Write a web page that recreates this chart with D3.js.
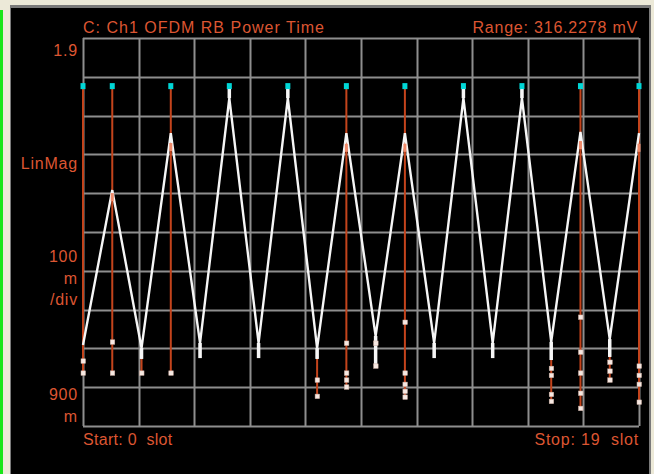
<!DOCTYPE html>
<html>
<head>
<meta charset="utf-8">
<script src="https://cdn.jsdelivr.net/npm/d3@7"></script>
<style>
html,body{margin:0;padding:0;background:#ece9d8;}
svg{display:block;}
text{font-family:"Liberation Sans",Arial,sans-serif;white-space:pre;}
</style>
</head>
<body>
<svg id="chart" width="654" height="474"></svg>
<script>
// ---- data ----
const slots = [0,1,2,3,4,5,6,7,8,9,10,11,12,13,14,15,16,17,18,19];
// white trace: value where the two legs meet, and tip of the short stem
const traceJoin = [1.109,1.508,1.101,1.655,1.114,1.745,1.114,1.745,1.101,1.655,1.132,1.655,1.114,1.745,1.114,1.745,1.117,1.658,1.124,1.655];
const traceTip  = [1.109,1.508,1.073,1.655,1.075,1.776,1.075,1.776,1.073,1.655,1.055,1.655,1.075,1.776,1.075,1.776,1.070,1.658,1.078,1.655];
// red vertical segments
const stemSlots  = [0,1,2,3,8,9,11,16,17,18,19];
const stemTop    = [1.776,1.776,1.073,1.776,1.073,1.776,1.776,1.070,1.776,1.078,1.776];
const stemBottom = [1.037,1.037,1.037,1.037,0.977,1.001,0.975,0.964,0.946,1.019,0.962];
// cyan cap markers
const capSlots  = [0,1,3,5,7,9,11,13,15,17,19];
const capValues = [1.776,1.776,1.776,1.776,1.776,1.776,1.776,1.776,1.776,1.776,1.776];
// pinkish peak highlights
const hiSlots  = [1,3,9,11,17,19];
const hiValues = [1.49,1.619,1.617,1.617,1.624,1.617];
// point markers
const markerSlots  = [0,0,1,1,2,3,8,8,9,9,9,9,10,10,11,11,11,11,11,16,16,16,16,17,17,17,17,17,18,18,18,19,19,19,19];
const markerValues = [1.068,1.037,1.117,1.037,1.037,1.037,1.019,0.977,1.114,1.037,1.019,1.001,1.114,1.055,1.168,1.037,1.008,0.990,0.975,1.049,1.031,0.982,0.964,1.181,1.091,1.037,0.985,0.946,1.065,1.042,1.019,1.055,1.031,1.008,0.962];
// labels
const titleText = "C: Ch1 OFDM RB Power Time";
const rangeText = "Range: 316.2278 mV";
const yLabels = ["1.9","LinMag","100","m","/div","900","m"];
const startText = "Start: 0  slot";
const stopText = "Stop: 19  slot";
const xDomain = [0,19];
const yDomain = [0.9,1.9];
const divisions = 10;

// ---- drawing ----
(function(){
const svg = d3.select("#chart");
const W = 654, H = 474;
const pL = 83, pR = 639, pT = 38, pB = 426;
const textColor = "#dc5632";
const redColor = "#c4441c";

// window chrome
svg.append("rect").attr("x",0).attr("y",0).attr("width",W).attr("height",H).attr("fill","#ece9d8");
svg.append("rect").attr("x",10).attr("y",5).attr("width",641).attr("height",H-5).attr("fill","#7a7a7a");
svg.append("rect").attr("x",11).attr("y",8).attr("width",638).attr("height",H-8).attr("fill","#000");
svg.append("rect").attr("x",0).attr("y",10).attr("width",3).attr("height",H-10).attr("fill","#19e619");

const x = d3.scaleLinear().domain(xDomain).range([pL,pR]);
const y = d3.scaleLinear().domain(yDomain).range([pB,pT]);

// grid
const g = svg.append("g");
const xg = d3.range(divisions+1).map(i => xDomain[0] + i*(xDomain[1]-xDomain[0])/divisions);
const yg = d3.range(divisions+1).map(i => yDomain[0] + i*(yDomain[1]-yDomain[0])/divisions);
g.selectAll("line.v").data(xg).join("line")
  .attr("x1",d=>Math.round(x(d))+0.5).attr("x2",d=>Math.round(x(d))+0.5)
  .attr("y1",pT).attr("y2",pB)
  .attr("stroke","#8e8e8e").attr("stroke-width",2);
g.selectAll("line.h").data(yg).join("line")
  .attr("y1",d=>Math.round(y(d))+0.5).attr("y2",d=>Math.round(y(d))+0.5)
  .attr("x1",pL).attr("x2",pR)
  .attr("stroke","#8e8e8e").attr("stroke-width",2);

// red stems
svg.selectAll("line.stem").data(stemSlots).join("line")
  .attr("x1",d=>x(d)).attr("x2",d=>x(d))
  .attr("y1",(d,i)=>y(stemTop[i])).attr("y2",(d,i)=>y(stemBottom[i]))
  .attr("stroke",redColor).attr("stroke-width",2);

// white trace
const pts = [];
slots.forEach((s,i) => {
  pts.push([s,traceJoin[i]]);
  pts.push([s,traceTip[i]]);
  pts.push([s,traceJoin[i]]);
});
const line = d3.line().x(d=>x(d[0])).y(d=>y(d[1]));
svg.append("path").attr("d",line(pts)).attr("fill","none")
  .attr("stroke","#f6f6f6").attr("stroke-width",2.4).attr("stroke-linejoin","miter").attr("stroke-miterlimit",2);
// thicker short stems where the legs run together
svg.selectAll("line.wstem").data(slots.filter((s,i)=>traceJoin[i]!==traceTip[i])).join("line")
  .attr("x1",d=>x(d)).attr("x2",d=>x(d))
  .attr("y1",d=>y(traceJoin[slots.indexOf(d)])).attr("y2",d=>y(traceTip[slots.indexOf(d)]))
  .attr("stroke","#f6f6f6").attr("stroke-width",3.5);

// peak highlights
svg.selectAll("rect.hi").data(hiSlots).join("rect")
  .attr("x",d=>x(d)-1.5).attr("y",(d,i)=>y(hiValues[i])-4)
  .attr("width",3).attr("height",8).attr("fill","#f08a6a");

// markers
svg.selectAll("rect.mk").data(markerSlots).join("rect")
  .attr("x",d=>x(d)-2).attr("y",(d,i)=>y(markerValues[i])-2)
  .attr("width",4.5).attr("height",4.5).attr("fill","#f6e8e2").attr("stroke","#d0b0a4").attr("stroke-width",0.5);

// cyan caps
svg.selectAll("rect.cap").data(capSlots).join("rect")
  .attr("x",d=>x(d)-2.5).attr("y",(d,i)=>y(capValues[i])-3)
  .attr("width",5).attr("height",6).attr("fill","#00d6d6");

// texts
const t = (txt, xx, yy, anchor) => svg.append("text").text(txt)
  .attr("x",xx).attr("y",yy).attr("text-anchor",anchor)
  .attr("fill",textColor).attr("font-size",16).attr("letter-spacing",0.8);
t(titleText, pL, 33, "start").attr("letter-spacing",1);
t(rangeText, pR-1, 33, "end");
const yl = [[0,56],[1,169],[2,262],[3,284],[4,305],[5,400],[6,422]];
yl.forEach(([i,yy]) => t(yLabels[i], 78, yy, "end"));
t(startText, pL, 445, "start").attr("letter-spacing",0.3);
t(stopText, pR, 445, "end");
})();
</script>
</body>
</html>
